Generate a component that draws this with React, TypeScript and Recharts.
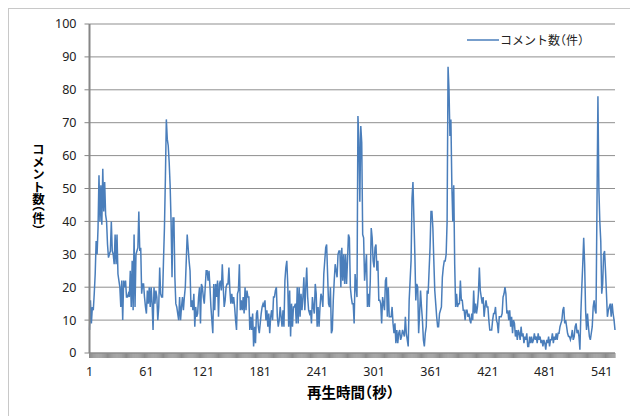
import React from 'react';
import { LineChart, Line, XAxis, YAxis, CartesianGrid, Legend } from 'recharts';

// comment counts per second, seconds 1-100
const comments001 = [
  7, 16, 9, 14, 13, 18, 24, 34, 30, 38,
  54, 40, 51, 39, 56, 43, 52, 42, 40, 33,
  29, 30, 31, 40, 31, 30, 27, 36, 27, 36,
  24, 22, 20, 14, 22, 10, 22, 20, 22, 17,
  17, 18, 17, 25, 14, 28, 13, 36, 14, 30,
  31, 32, 43, 31, 32, 18, 21, 21, 17, 14,
  12, 19, 15, 20, 14, 20, 15, 7, 20, 15,
  19, 17, 10, 14, 26, 18, 17, 17, 28, 38,
  53, 71, 65, 63, 58, 51, 40, 23, 41, 41,
  23, 15, 14, 12, 10, 17, 10, 14, 17, 13,
];
// seconds 101-200
const comments101 = [
  17, 20, 28, 36, 32, 28, 25, 14, 16, 13,
  18, 8, 14, 11, 12, 17, 20, 9, 21, 20,
  17, 15, 20, 25, 25, 22, 25, 20, 14, 10,
  6, 21, 13, 21, 17, 22, 11, 21, 22, 19,
  27, 20, 14, 16, 20, 21, 21, 26, 19, 15,
  18, 15, 17, 14, 10, 7, 18, 19, 27, 13,
  16, 13, 17, 12, 20, 13, 19, 17, 17, 7,
  11, 7, 12, 2, 8, 3, 12, 13, 8, 6,
  9, 12, 14, 15, 14, 16, 10, 13, 8, 12,
  6, 11, 13, 10, 17, 17, 19, 20, 11, 8,
];
// seconds 201-300
const comments201 = [
  10, 14, 11, 8, 13, 8, 22, 26, 28, 21,
  8, 19, 5, 15, 8, 14, 14, 15, 9, 20,
  9, 20, 11, 18, 13, 17, 23, 13, 20, 26,
  17, 13, 12, 13, 9, 17, 14, 12, 21, 18,
  8, 14, 8, 14, 18, 17, 14, 24, 28, 32,
  33, 24, 15, 14, 20, 6, 7, 16, 22, 27,
  25, 23, 30, 31, 31, 20, 32, 22, 30, 21,
  30, 21, 28, 36, 35, 20, 17, 15, 15, 9,
  24, 20, 17, 72, 65, 46, 69, 64, 36, 35,
  22, 26, 30, 14, 18, 14, 22, 38, 35, 28,
];
// seconds 301-400
const comments301 = [
  26, 32, 33, 25, 28, 16, 16, 15, 9, 17,
  15, 13, 22, 23, 11, 20, 11, 11, 11, 14,
  9, 6, 9, 3, 7, 3, 6, 7, 4, 5,
  7, 6, 5, 11, 6, 4, 2, 16, 22, 28,
  47, 52, 41, 30, 16, 21, 20, 6, 12, 19,
  14, 10, 4, 2, 6, 8, 19, 18, 25, 32,
  43, 43, 38, 28, 19, 15, 11, 8, 8, 12,
  13, 14, 23, 26, 28, 28, 30, 40, 87, 80,
  66, 71, 51, 40, 51, 27, 14, 18, 14, 15,
  15, 22, 16, 16, 13, 13, 10, 13, 13, 11,
];
// seconds 401-500
const comments401 = [
  12, 10, 9, 12, 10, 19, 12, 15, 12, 14,
  18, 26, 19, 17, 15, 17, 11, 14, 16, 14,
  14, 10, 7, 7, 7, 10, 12, 12, 14, 10,
  9, 6, 11, 11, 11, 12, 17, 18, 20, 18,
  12, 13, 10, 13, 8, 11, 6, 10, 9, 5,
  7, 4, 7, 6, 4, 8, 5, 6, 3, 5,
  4, 6, 2, 2, 5, 3, 5, 3, 4, 6,
  4, 5, 3, 6, 4, 5, 3, 4, 2, 4,
  3, 1, 4, 3, 5, 2, 4, 4, 6, 3,
  5, 4, 6, 4, 6, 6, 8, 9, 10, 13,
];
// seconds 501-555
const comments501 = [
  14, 9, 10, 8, 6, 5, 5, 4, 5, 7,
  4, 5, 8, 9, 6, 7, 5, 1, 12, 20,
  27, 35, 27, 13, 7, 12, 8, 5, 4, 6,
  8, 14, 16, 13, 12, 45, 78, 50, 40, 34,
  18, 21, 30, 31, 25, 18, 11, 13, 14, 15,
  11, 15, 12, 10, 7,
];

const comments = [
  ...comments001,
  ...comments101,
  ...comments201,
  ...comments301,
  ...comments401,
  ...comments501,
];
const seconds = comments.map((_, i) => i + 1);
const xTickLabels = ['1', '61', '121', '181', '241', '301', '361', '421', '481', '541'];
const yTicks = [0, 10, 20, 30, 40, 50, 60, 70, 80, 90, 100];
const seriesName = 'コメント数（件）';
const xTitle = '再生時間（秒）';
const yTitle = 'コメント数（件）';

const data = seconds.map((s, i) => ({ t: s, v: comments[i] }));

const numFont = '"Noto Sans", "DejaVu Sans", sans-serif';
const jpFont = '"Noto Sans CJK JP", "Noto Sans", sans-serif';
const halfPunct = '"halt" 1';

const XTick = (props: any) => {
  const { x, y, payload } = props;
  const label = String(payload.value);
  if (!xTickLabels.includes(label)) return <g />;
  return (
    <text x={x} y={y} dy="0.71em" textAnchor="middle" fontSize={12.5} fill="#222" fontFamily={numFont}>
      {label}
    </text>
  );
};

const LegendContent = () => (
  <div
    style={{
      display: 'flex',
      alignItems: 'center',
      height: 14,
      fontFamily: jpFont,
      fontSize: 12,
      lineHeight: '14px',
      color: '#222',
      whiteSpace: 'nowrap',
    }}
  >
    <svg width={32} height={10} style={{ display: 'block' }}>
      <line x1={0} y1={5} x2={32} y2={5} stroke="#4a7ebb" strokeWidth={1.5} />
    </svg>
    <span style={{ marginLeft: 1, fontFeatureSettings: halfPunct }}>{seriesName}</span>
  </div>
);

export default function App() {
  return (
    <div
      style={{
        position: 'relative',
        width: 623,
        height: 408,
        border: '1px solid #c8c8c8',
        boxSizing: 'content-box',
        background: '#fff',
      }}
    >
      <LineChart width={621} height={406} data={data} margin={{ top: 15, right: 15, bottom: 12, left: 0 }}>
        <CartesianGrid vertical={false} stroke="#8f8f8f" strokeWidth={1} />
        <XAxis
          dataKey="t"
          type="category"
          interval={0}
          tickSize={5}
          tickMargin={9}
          height={50}
          axisLine={{ stroke: '#8c8c8c' }}
          tickLine={{ stroke: '#8c8c8c' }}
          tick={<XTick />}
        />
        <YAxis
          domain={[0, 100]}
          ticks={yTicks}
          interval={0}
          width={80.5}
          tickSize={5}
          tickMargin={8}
          axisLine={{ stroke: '#868686', strokeWidth: 2 }}
          tickLine={{ stroke: '#868686' }}
          tick={{ fontSize: 12.5, fill: '#222', fontFamily: numFont }}
        />
        <Legend
          layout="vertical"
          align="center"
          verticalAlign="middle"
          content={<LegendContent />}
          wrapperStyle={{ position: 'absolute', left: 458, top: 24, width: 170, height: 14 }}
        />
        <Line
          type="linear"
          dataKey="v"
          name={seriesName}
          stroke="#4a7ebb"
          strokeWidth={1.5}
          dot={false}
          isAnimationActive={false}
        />
      </LineChart>
      <div
        style={{
          position: 'absolute',
          left: 22.5,
          top: 134,
          writingMode: 'vertical-rl',
          textOrientation: 'mixed',
          whiteSpace: 'nowrap',
          fontFamily: jpFont,
          fontWeight: 'bold',
          fontSize: 12.5,
          lineHeight: '12.5px',
          color: '#000',
          fontFeatureSettings: '"vert" 1, "vhal" 1',
        }}
      >
        {yTitle}
      </div>
      <div
        style={{
          position: 'absolute',
          left: 341.5,
          top: 376,
          transform: 'translateX(-50%)',
          whiteSpace: 'nowrap',
          fontFamily: jpFont,
          fontWeight: 'bold',
          fontSize: 14.5,
          lineHeight: '14.5px',
          color: '#000',
          fontFeatureSettings: halfPunct,
        }}
      >
        {xTitle}
      </div>
    </div>
  );
}
